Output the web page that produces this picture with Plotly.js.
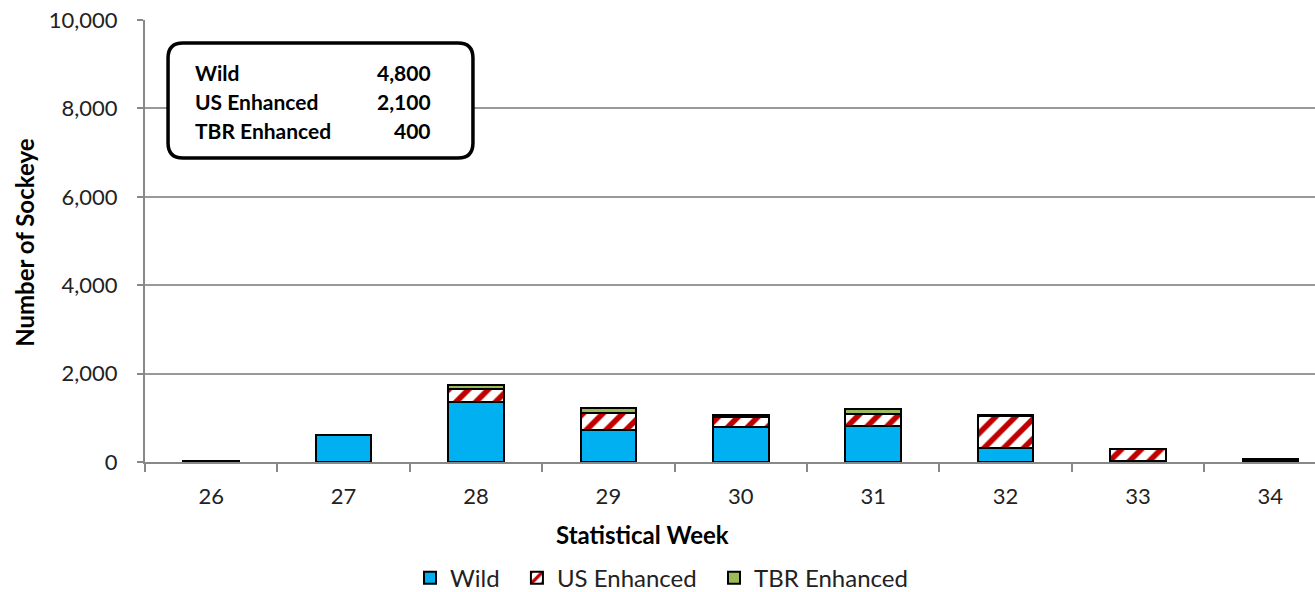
<!DOCTYPE html>
<html>
<head>
<meta charset="utf-8">
<script src="https://cdn.plot.ly/plotly-3.0.1.min.js"></script>
<style>html,body{margin:0;padding:0;background:#fff;}#chart{width:1315px;height:592px;}</style>
</head>
<body>
<div id="chart"></div>
<script>
const weeks = ["26", "27", "28", "29", "30", "31", "32", "33", "34"];
const wild = [30, 600, 1360, 720, 790, 810, 310, 20, 30];
const usEnhanced = [0, 0, 290, 390, 220, 270, 720, 270, 30];
const tbrEnhanced = [0, 0, 100, 120, 60, 125, 30, 0, 0];
const seriesNames = ["Wild", "US Enhanced", "TBR Enhanced"];
const summaryLabels = ["Wild", "US Enhanced", "TBR Enhanced"];
const summaryValues = ["4,800", "2,100", "400"];

const FONT = "Lato, 'Open Sans', sans-serif";
const outline = {color: "#000", width: 2};
const PAD = ["&nbsp;&nbsp;", "&nbsp;&nbsp;", ""];

const traces = [
  {type: "bar", name: seriesNames[0] + PAD[0], x: weeks, y: wild,
   marker: {color: "#00B0F0", line: outline}, width: 0.42},
  {type: "bar", name: seriesNames[1] + PAD[1], x: weeks, y: usEnhanced,
   marker: {color: "#ffffff", line: outline,
            pattern: {shape: "/", fgcolor: "#C00000", bgcolor: "#ffffff", size: 14, solidity: 0.4}},
   width: 0.42},
  {type: "bar", name: seriesNames[2] + PAD[2], x: weeks, y: tbrEnhanced,
   marker: {color: "#9BBB59", line: outline}, width: 0.42}
];

// rounded box in paper coords
const x0 = 0.0197, x1 = 0.2803, y0 = 0.688, y1 = 0.948, rx = 0.0128, ry = 0.034;
const boxPath = `M ${x0+rx},${y1} L ${x1-rx},${y1} Q ${x1},${y1} ${x1},${y1-ry} L ${x1},${y0+ry} Q ${x1},${y0} ${x1-rx},${y0} L ${x0+rx},${y0} Q ${x0},${y0} ${x0},${y0+ry} L ${x0},${y1-ry} Q ${x0},${y1} ${x0+rx},${y1} Z`;

const rowY = [0.8815, 0.8155, 0.7505];
const annotations = [];
summaryLabels.forEach((lab, i) => {
  annotations.push({xref: "paper", yref: "paper", x: 0.0410, y: rowY[i], xanchor: "left", yanchor: "middle",
    text: "<b>" + lab + "</b>", showarrow: false, font: {family: FONT, size: 21, color: "#000"}});
  annotations.push({xref: "paper", yref: "paper", x: 0.2462, y: rowY[i], xanchor: "right", yanchor: "middle",
    text: "<b>" + summaryValues[i] + "</b>", showarrow: false, font: {family: FONT, size: 21, color: "#000"}});
});
annotations.push({xref: "paper", yref: "paper", x: 0.4256, y: -0.163, xanchor: "center", yanchor: "middle",
  text: "<b>Statistical Week</b>", showarrow: false, font: {family: FONT, size: 24, color: "#000"}});
annotations.push({xref: "paper", yref: "paper", x: -0.1026, y: 0.498, xanchor: "center", yanchor: "middle",
  textangle: -90, text: "<b>Number of Sockeye</b>", showarrow: false, font: {family: FONT, size: 24, color: "#000"}});

const layout = {
  width: 1315, height: 592,
  margin: {l: 145, r: 0, t: 20, b: 130},
  paper_bgcolor: "#fff", plot_bgcolor: "#fff",
  barmode: "stack",
  font: {family: FONT, size: 22, color: "#000"},
  xaxis: {
    type: "category", range: [-0.5, 8.337],
    showline: true, linecolor: "#888", linewidth: 2,
    ticks: "outside", tickson: "boundaries", ticklen: 8, tickcolor: "#888", tickwidth: 2,
    ticklabelstandoff: 14,
    showgrid: false, zeroline: false, automargin: false,
    tickfont: {family: FONT, size: 22, color: "#222"}
  },
  yaxis: {
    range: [0, 10000], tickvals: [0, 2000, 4000, 6000, 8000, 10000],
    tickformat: ",", showgrid: true, gridcolor: "#999", gridwidth: 2,
    showline: true, linecolor: "#888", linewidth: 2,
    ticks: "outside", ticklen: 6, tickcolor: "#888", tickwidth: 2,
    ticklabelstandoff: 15,
    zeroline: false, automargin: false,
    tickfont: {family: FONT, size: 22, color: "#222"}
  },
  legend: {orientation: "h", xref: "paper", x: 0.2265, xanchor: "left",
           yref: "container", y: 0.0236, yanchor: "middle", bgcolor: "rgba(0,0,0,0)",
           traceorder: "normal", font: {family: FONT, size: 24, color: "#222"}, itemwidth: 30},
  shapes: [{type: "path", xref: "paper", yref: "paper", path: boxPath,
            line: {color: "#000", width: 3.5}, fillcolor: "#fff", layer: "above"}],
  annotations: annotations,
  bargap: 0.58
};

Plotly.newPlot("chart", traces, layout, {displayModeBar: false, staticPlot: true});
</script>
</body>
</html>
